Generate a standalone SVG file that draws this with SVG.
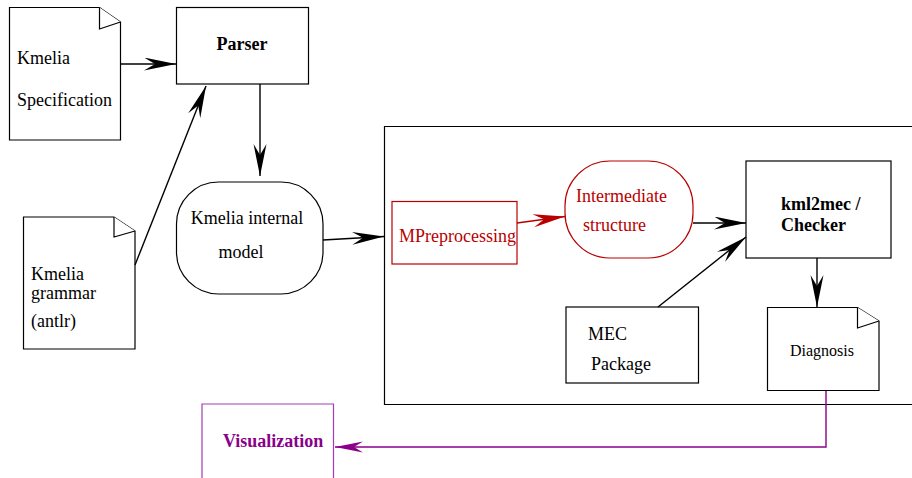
<svg xmlns="http://www.w3.org/2000/svg" width="912" height="478" viewBox="0 0 912 478">
<style>
.box{fill:#fff;stroke:#000;stroke-width:1.2}
.fold{fill:#fff;stroke:#000;stroke-width:1.2;stroke-linejoin:miter}
.red{fill:#fff;stroke:#b80000;stroke-width:1.2}
.pur{fill:none;stroke:#a040b0;stroke-width:1.2}
.t{font-family:"Liberation Serif","Times New Roman",serif;font-size:18px;fill:#000}
.b{font-weight:bold}
.tr{fill:#b80000}
.tp{fill:#8a008a}
.c{stroke:#000;stroke-width:1.4;fill:none}
.cr{stroke:#b80000;stroke-width:1.4;fill:none}
.cp{stroke:#8a008a;stroke-width:1.4;fill:none}
</style>
<defs>
<marker id="ah" markerUnits="userSpaceOnUse" markerWidth="34" markerHeight="14" refX="32" refY="6.5" orient="auto" viewBox="0 0 34 14">
<path d="M0,0 L32,6.5 L0,13 L11,6.5 z" fill="#000"/>
</marker>
<marker id="ahr" markerUnits="userSpaceOnUse" markerWidth="34" markerHeight="14" refX="32" refY="6.5" orient="auto" viewBox="0 0 34 14">
<path d="M0,0 L32,6.5 L0,13 L11,6.5 z" fill="#b80000"/>
</marker>
<marker id="ahp" markerUnits="userSpaceOnUse" markerWidth="30" markerHeight="12" refX="28" refY="5.5" orient="auto" viewBox="0 0 30 12">
<path d="M0,0 L28,5.5 L0,11 L9,5.5 z" fill="#8a008a"/>
</marker>
</defs>

<g id="container">
<path d="M913,126.5 H384.5 V404.5 H913" fill="none" stroke="#000" stroke-width="1.2"/>
</g>

<g id="kmelia-spec">
<path class="fold" d="M9.5,7.5 H99.5 L120.5,22 V140 H9.5 Z"/>
<path class="fold" d="M99.5,7.5 V29 L120.5,22"/>
<text class="t" x="17" y="64">Kmelia</text>
<text class="t" x="17" y="106">Specification</text>
</g>

<g id="parser">
<rect class="box" x="176.5" y="7.5" width="132" height="76.5"/>
<text class="t b" x="242" y="50" text-anchor="middle">Parser</text>
</g>

<g id="kmelia-grammar">
<path class="fold" d="M23.5,217 H114 L135,231 V349 H23.5 Z"/>
<path class="fold" d="M114,217 V237 L135,231"/>
<text class="t" x="31" y="280">Kmelia</text>
<text class="t" x="31" y="299">grammar</text>
<text class="t" x="31" y="327">(antlr)</text>
</g>

<g id="kmelia-internal-model">
<rect class="box" x="176.5" y="182" width="146.5" height="112" rx="42" ry="42"/>
<text class="t" x="247" y="224" text-anchor="middle">Kmelia internal</text>
<text class="t" x="241" y="258" text-anchor="middle">model</text>
</g>

<g id="mpreprocessing">
<rect class="red" x="392" y="201.5" width="125" height="62.5"/>
<text class="t tr" x="399" y="241.5">MPreprocessing</text>
</g>

<g id="intermediate-structure">
<rect class="red" x="565" y="161" width="128" height="97" rx="45" ry="45"/>
<text class="t tr" x="576" y="202">Intermediate</text>
<text class="t tr" x="583" y="231">structure</text>
</g>

<g id="kml2mec-checker">
<rect class="box" x="746" y="161" width="145" height="97"/>
<text class="t b" x="781" y="210">kml2mec /</text>
<text class="t b" x="781" y="231">Checker</text>
</g>

<g id="mec-package">
<rect class="box" x="566" y="307" width="132.5" height="76"/>
<text class="t" x="588" y="340">MEC</text>
<text class="t" x="591" y="370">Package</text>
</g>

<g id="diagnosis">
<path class="fold" d="M767.5,307.5 H857.5 L879,321 V390.5 H767.5 Z"/>
<path class="fold" d="M857.5,307.5 V328 L879,321"/>
<text class="t" x="822" y="356" text-anchor="middle" style="font-size:16px">Diagnosis</text>
</g>

<g id="visualization">
<path class="pur" d="M202,478 V404 H333.5 V478"/>
<text class="t b tp" x="223" y="447">Visualization</text>
</g>

<g id="connectors">
<line class="c" x1="121" y1="64" x2="176" y2="64" marker-end="url(#ah)"/>
<line class="c" x1="260" y1="84" x2="260" y2="176" marker-end="url(#ah)"/>
<line class="c" x1="135" y1="265" x2="206" y2="86" marker-end="url(#ah)"/>
<line class="c" x1="323" y1="240" x2="384" y2="236.5" marker-end="url(#ah)"/>
<line class="cr" x1="517" y1="223" x2="565" y2="216.5" marker-end="url(#ahr)"/>
<line class="c" x1="693" y1="223" x2="746" y2="223" marker-end="url(#ah)"/>
<line class="c" x1="658" y1="307" x2="746" y2="237" marker-end="url(#ah)"/>
<line class="c" x1="817" y1="258" x2="817" y2="307" marker-end="url(#ah)"/>
<path class="cp" d="M826,391 V447 H335" marker-end="url(#ahp)"/>
</g>
</svg>
